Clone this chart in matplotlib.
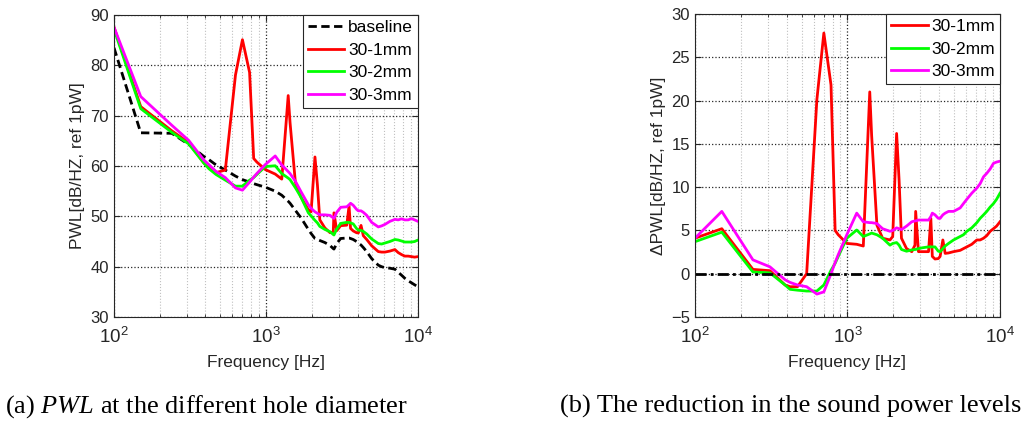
import numpy as np
import matplotlib
matplotlib.use('Agg')
import matplotlib.pyplot as plt

plt.rcParams['font.family'] = ['Liberation Sans', 'DejaVu Sans']
plt.rcParams['mathtext.default'] = 'regular'
plt.rcParams['mathtext.fontset'] = 'custom'
plt.rcParams['mathtext.it'] = 'Liberation Serif:italic'

# frequency grid [Hz]
freq = [100, 150, 240, 310, 390, 420, 470, 540, 630, 700, 780, 830, 870, 990,
        1150, 1270, 1400, 1440, 1560, 1700, 1900, 1980, 2100, 2180, 2260, 2440,
        2640, 2770, 2800, 2920, 3100, 3400, 3520, 3600, 3750, 3940, 4050, 4220,
        4370, 4600, 4960, 5480, 5760, 6060, 6530, 7050, 7410, 7800, 8190, 8620,
        9060, 9500, 10000]

# baseline PWL [dB/Hz]
baseline = [83.5, 66.6, 66.5, 64.3, 61.9, 61.3, 60.2, 59.2, 58.0, 57.3, 56.8, 56.5,
            56.3, 55.8, 55.0, 54.2, 53.0, 52.6, 51.2, 49.7, 47.4, 46.6, 45.6, 45.4,
            45.2, 44.8, 44.2, 43.6, 43.5, 44.6, 45.6, 45.7, 45.7, 45.6, 45.4, 45.0,
            44.7, 44.3, 43.8, 43.0, 41.6, 40.3, 40.0, 39.8, 39.7, 39.5, 38.9, 38.3,
            37.7, 37.2, 36.8, 36.4, 36.0]

# reduction (series - baseline) [dB]
d_1mm = [4.1, 5.2, 0.5, 0.35, -1.3, -1.5, -1.5, 0.0, 20.1, 27.8, 21.8, 5.0, 4.5, 3.5,
         3.4, 3.2, 21.0, 16.0, 5.6, 4.1, 3.9, 4.3, 16.2, 10.8, 4.1, 2.9, 2.55, 3.3,
         7.2, 2.55, 2.55, 2.55, 6.4, 2.0, 1.7, 1.75, 2.0, 3.9, 2.35, 2.4, 2.55, 2.7,
         2.9, 3.1, 3.4, 3.9, 3.9, 4.1, 4.4, 4.9, 5.2, 5.5, 6.0]
d_2mm = [3.7, 4.8, 0.2, 0.1, -1.3, -1.8, -1.9, -2.0, -2.0, -1.3, 0.4, 1.2, 2.0, 4.1,
         5.05, 4.3, 4.6, 4.7, 4.5, 4.1, 3.3, 3.5, 3.6, 3.3, 2.8, 2.6, 2.75, 2.8,
         2.8, 2.9, 3.0, 3.1, 3.1, 3.1, 3.1, 2.6, 2.55, 2.9, 3.2, 3.5, 3.9, 4.3,
         4.5, 4.9, 5.3, 5.9, 6.4, 6.8, 7.2, 7.7, 8.1, 8.6, 9.3]
d_3mm = [4.1, 7.2, 1.6, 0.8, -0.7, -1.0, -1.3, -1.5, -2.35, -2.1, 0.0, 1.3, 2.2, 4.5,
         7.0, 6.0, 5.9, 5.9, 5.8, 5.2, 4.9, 5.0, 5.3, 5.2, 5.1, 5.5, 6.0, 6.1,
         6.1, 6.2, 6.2, 6.2, 6.6, 7.0, 6.8, 6.4, 6.4, 6.8, 7.0, 7.2, 7.2, 7.6,
         8.1, 8.6, 9.3, 9.9, 10.4, 11.2, 11.6, 12.1, 12.75, 12.9, 13.0]

labels = ['30-1mm', '30-2mm', '30-3mm']
colors = ['#ff0000', '#00ff00', '#ff00ff']
deltas = [d_1mm, d_2mm, d_3mm]

dark = '#262626'


def style(ax, ylo, yhi, ystep, ylabel):
    ax.set_xscale('log')
    ax.set_xlim(100, 10000)
    ax.set_ylim(ylo, yhi)
    ax.set_yticks(np.arange(ylo, yhi + 1, ystep))
    ax.grid(True, which='major', ls=':', color=dark, lw=0.9)
    ax.grid(True, which='minor', axis='x', ls=':', color='#c0c0c0', lw=0.8)
    ax.tick_params(which='both', direction='in', top=True, right=True,
                   labelsize=12, colors=dark)
    ax.tick_params(axis='x', which='major', labelsize=13.5, pad=7)
    ax.tick_params(which='major', length=4)
    ax.tick_params(which='minor', length=2)
    for s in ax.spines.values():
        s.set_color(dark)
        s.set_linewidth(0.8)
    ax.set_xlabel('Frequency [Hz]', fontsize=12.5, color=dark, labelpad=6)
    ax.set_ylabel(ylabel, fontsize=12.5, color=dark)


fig = plt.figure(figsize=(10.25, 4.28), dpi=100)
ax1 = fig.add_axes([0.1112, 0.2593, 0.2966, 0.7056])
ax2 = fig.add_axes([0.678, 0.2593, 0.2976, 0.708])

f = np.array(freq)
base = np.array(baseline)

# (a) absolute levels
ax1.plot(f, base, color='k', lw=2, ls=(0, (3, 1.6)), label='baseline')
for d, c, l in zip(deltas, colors, labels):
    ax1.plot(f, base + np.array(d), color=c, lw=2, label=l)
style(ax1, 30, 90, 10, 'PWL[dB/HZ, ref 1pW]')

# (b) reduction
for d, c, l in zip(deltas, colors, labels):
    ax2.plot(f, d, color=c, lw=2, label=l)
ax2.axhline(0, color='k', lw=2, ls=(0, (4, 1.5, 1, 1.5)))
style(ax2, -5, 30, 5, '\u0394PWL[dB/HZ, ref 1pW]')

for ax in (ax1, ax2):
    leg = ax.legend(loc='upper right', fontsize=12.5, fancybox=False,
                    edgecolor=dark, framealpha=1, borderaxespad=0,
                    handlelength=2.1, handletextpad=0.2, labelspacing=0.42,
                    borderpad=0.3)
    leg.get_frame().set_linewidth(0.8)

fig.text(0.005, 0.035, '(a) $\\mathit{PWL}$ at the different hole diameter',
         family='Liberation Serif', fontsize=19, color='k')
fig.text(0.546, 0.035, '(b) The reduction in the sound power levels',
         family='Liberation Serif', fontsize=19, color='k')

fig.savefig('out.png', dpi=100)
